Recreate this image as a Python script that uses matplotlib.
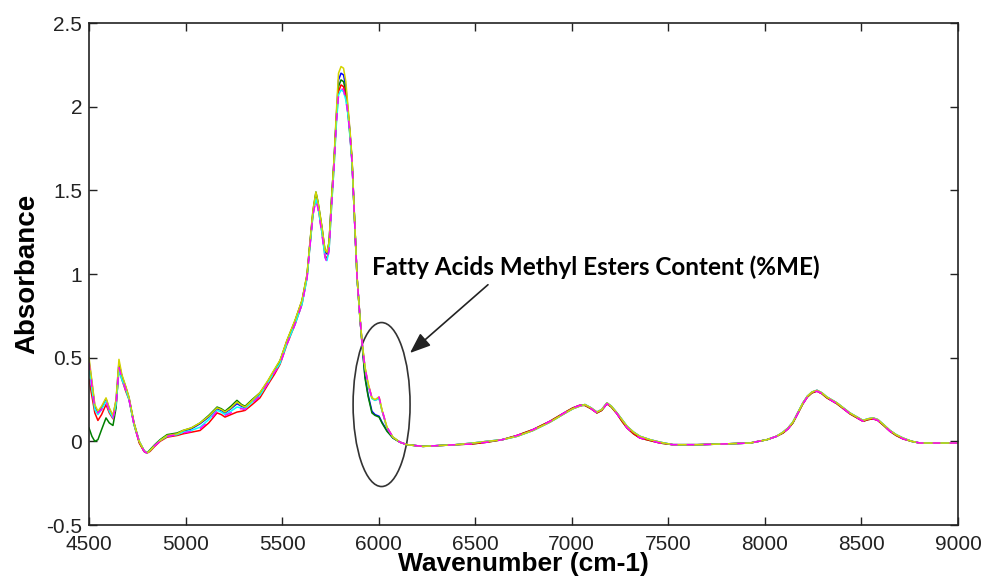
import numpy as np
import matplotlib
matplotlib.use("Agg")
import matplotlib.pyplot as plt
from matplotlib.patches import Ellipse

# wavenumber grid, split in three read-off segments
wn_left = [4500, 4515, 4530, 4546, 4565, 4588, 4605, 4624, 4640, 4655, 4670, 4690, 4707,
           4733, 4760, 4785, 4800, 4816, 4840, 4868, 4904, 4956, 4987, 5030, 5075, 5120,
           5163, 5185, 5204, 5235, 5266, 5290, 5308, 5345, 5385, 5427, 5460]
wn_peak = [5489, 5525, 5567, 5603, 5629, 5644, 5660, 5675, 5686, 5706, 5722, 5732, 5743,
           5758, 5769, 5780, 5792, 5805, 5818, 5830, 5841, 5852, 5862, 5877, 5888, 5903,
           5914, 5929, 5945, 5965, 5981, 6002, 6017, 6043, 6074, 6110, 6147]
wn_right = [6229, 6317, 6400, 6488, 6560, 6640, 6716, 6799, 6887, 6975, 7006, 7040, 7068,
            7100, 7130, 7155, 7182, 7205, 7234, 7260, 7286, 7320, 7353, 7405, 7457, 7524,
            7650, 7800, 7923, 8011, 8060, 8094, 8120, 8145, 8170, 8197, 8220, 8244, 8270,
            8295, 8321, 8373, 8440, 8508, 8535, 8560, 8585, 8615, 8648, 8680, 8715, 8760,
            8803, 8900, 9000]

# absorbance, left segment (4500-5460)
blue_left = [0.48, 0.35, 0.21, 0.175, 0.20, 0.255, 0.195, 0.15, 0.245, 0.47, 0.39, 0.325, 0.26,
             0.11, 0.0, -0.055, -0.07, -0.055, -0.025, 0.005, 0.035, 0.045, 0.06, 0.075, 0.105, 0.145,
             0.195, 0.185, 0.17, 0.195, 0.225, 0.21, 0.2, 0.24, 0.285, 0.36, 0.425]
green_left = [0.08, 0.03, 0.0, 0.01, 0.07, 0.14, 0.11, 0.095, 0.2, 0.45, 0.39, 0.32, 0.255,
              0.105, -0.005, -0.06, -0.07, -0.05, -0.02, 0.01, 0.04, 0.05, 0.065, 0.08, 0.11, 0.155,
              0.205, 0.195, 0.18, 0.21, 0.245, 0.22, 0.21, 0.25, 0.29, 0.36, 0.425]
red_left = [0.37, 0.27, 0.17, 0.125, 0.16, 0.22, 0.17, 0.135, 0.22, 0.43, 0.37, 0.30, 0.25,
            0.10, -0.01, -0.06, -0.07, -0.06, -0.03, 0.0, 0.025, 0.035, 0.045, 0.055, 0.065, 0.11,
            0.17, 0.16, 0.145, 0.16, 0.175, 0.18, 0.185, 0.22, 0.26, 0.34, 0.40]
cyan_left = [0.44, 0.31, 0.19, 0.16, 0.19, 0.24, 0.18, 0.14, 0.22, 0.43, 0.37, 0.31, 0.25,
             0.10, 0.0, -0.055, -0.07, -0.055, -0.025, 0.005, 0.03, 0.04, 0.055, 0.065, 0.085, 0.13,
             0.185, 0.175, 0.16, 0.18, 0.205, 0.2, 0.195, 0.235, 0.275, 0.35, 0.415]
magenta_left = [0.47, 0.33, 0.20, 0.17, 0.19, 0.24, 0.18, 0.14, 0.22, 0.44, 0.38, 0.31, 0.25,
                0.10, -0.005, -0.06, -0.07, -0.055, -0.025, 0.0, 0.03, 0.04, 0.05, 0.06, 0.075, 0.12,
                0.18, 0.17, 0.155, 0.17, 0.195, 0.195, 0.19, 0.23, 0.27, 0.35, 0.41]
yellow_left = [0.50, 0.36, 0.22, 0.18, 0.21, 0.26, 0.20, 0.155, 0.25, 0.49, 0.40, 0.33, 0.265,
               0.11, 0.0, -0.055, -0.07, -0.055, -0.025, 0.005, 0.035, 0.045, 0.065, 0.08, 0.11, 0.15,
               0.20, 0.19, 0.175, 0.20, 0.235, 0.215, 0.205, 0.245, 0.29, 0.365, 0.43]

# absorbance, peak segment (5489-6147)
blue_peak = [0.48, 0.60, 0.72, 0.84, 0.99, 1.18, 1.37, 1.48, 1.42, 1.275, 1.135, 1.12, 1.18,
             1.48, 1.68, 1.93, 2.16, 2.20, 2.19, 2.12, 1.98, 1.84, 1.68, 1.28, 0.98, 0.74,
             0.585, 0.39, 0.28, 0.18, 0.16, 0.15, 0.115, 0.065, 0.02, -0.005, -0.02]
green_peak = [0.48, 0.60, 0.72, 0.84, 0.995, 1.185, 1.38, 1.49, 1.43, 1.28, 1.14, 1.13, 1.19,
              1.49, 1.68, 1.92, 2.12, 2.16, 2.15, 2.09, 1.97, 1.83, 1.68, 1.28, 0.98, 0.74,
              0.58, 0.38, 0.27, 0.17, 0.155, 0.145, 0.11, 0.06, 0.02, -0.005, -0.02]
red_peak = [0.46, 0.58, 0.70, 0.82, 0.98, 1.17, 1.36, 1.45, 1.40, 1.25, 1.11, 1.09, 1.15,
            1.45, 1.65, 1.90, 2.09, 2.13, 2.12, 2.06, 1.96, 1.82, 1.67, 1.28, 0.98, 0.74,
            0.59, 0.44, 0.34, 0.26, 0.245, 0.26, 0.185, 0.08, 0.025, -0.005, -0.02]
cyan_peak = [0.465, 0.585, 0.70, 0.82, 0.975, 1.165, 1.355, 1.45, 1.40, 1.25, 1.10, 1.08, 1.14,
             1.44, 1.64, 1.88, 2.07, 2.10, 2.09, 2.04, 1.95, 1.81, 1.66, 1.275, 0.975, 0.74,
             0.59, 0.44, 0.34, 0.255, 0.245, 0.255, 0.185, 0.08, 0.025, -0.005, -0.02]
magenta_peak = [0.46, 0.58, 0.70, 0.82, 0.975, 1.165, 1.355, 1.44, 1.39, 1.24, 1.10, 1.07, 1.14,
                1.44, 1.64, 1.89, 2.07, 2.11, 2.10, 2.04, 1.96, 1.82, 1.67, 1.28, 0.98, 0.74,
                0.59, 0.44, 0.345, 0.26, 0.25, 0.265, 0.19, 0.085, 0.025, -0.005, -0.02]
yellow_peak = [0.485, 0.605, 0.725, 0.845, 1.00, 1.19, 1.385, 1.49, 1.43, 1.285, 1.145, 1.13, 1.19,
               1.49, 1.69, 1.95, 2.20, 2.24, 2.23, 2.15, 2.00, 1.85, 1.69, 1.285, 0.985, 0.745,
               0.595, 0.445, 0.35, 0.26, 0.25, 0.265, 0.19, 0.085, 0.025, -0.005, -0.02]

# absorbance, right segment (6229-9000): two groups that almost overlap
right_a = [-0.03, -0.025, -0.02, -0.01, 0.0, 0.01, 0.03, 0.065, 0.115, 0.175, 0.195, 0.21, 0.22,
           0.20, 0.175, 0.19, 0.23, 0.21, 0.17, 0.13, 0.09, 0.055, 0.03, 0.01, -0.005, -0.02,
           -0.02, -0.015, -0.01, 0.01, 0.03, 0.055, 0.08, 0.115, 0.17, 0.23, 0.27, 0.295, 0.305,
           0.29, 0.265, 0.23, 0.17, 0.125, 0.135, 0.14, 0.13, 0.10, 0.065, 0.04, 0.02, 0.0,
           -0.01, -0.01, -0.01]
right_b = [-0.03, -0.025, -0.02, -0.015, -0.005, 0.01, 0.035, 0.07, 0.12, 0.18, 0.2, 0.215, 0.215,
           0.195, 0.17, 0.185, 0.225, 0.205, 0.165, 0.12, 0.08, 0.045, 0.02, 0.005, -0.01, -0.02,
           -0.02, -0.015, -0.01, 0.01, 0.03, 0.05, 0.075, 0.11, 0.165, 0.225, 0.265, 0.29, 0.30,
           0.285, 0.26, 0.225, 0.165, 0.12, 0.13, 0.135, 0.125, 0.095, 0.06, 0.035, 0.015, 0.0,
           -0.01, -0.01, -0.01]

ytick_vals = [-0.5, 0, 0.5, 1, 1.5, 2, 2.5]
ytick_labels = ['-0.5', '0', '0.5', '1', '1.5', '2', '2.5']
xtick_vals = [4500, 5000, 5500, 6000, 6500, 7000, 7500, 8000, 8500, 9000]

wn = wn_left + wn_peak + wn_right
series = [
    ('blue', blue_left + blue_peak + right_a, '-'),
    ('green', green_left + green_peak + right_b, '-'),
    ('red', red_left + red_peak + right_b, '-'),
    ('cyan', cyan_left + cyan_peak + right_a, '-'),
    ('#d4d400', yellow_left + yellow_peak + right_a, '-'),
    ('magenta', magenta_left + magenta_peak + right_b, '--'),
]

fig = plt.figure(figsize=(9.87, 5.8), dpi=100)
ax = fig.add_axes([0.0902, 0.0948, 0.8804, 0.8655])

for color, vals, ls in series:
    if ls == '--':
        ax.plot(wn, vals, color=color, lw=1.1, dashes=(5, 6))
    else:
        ax.plot(wn, vals, color=color, lw=1.1)

ax.set_xlim(4500, 9000)
ax.set_ylim(-0.5, 2.5)
ax.set_xticks(xtick_vals)
ax.set_xticklabels([str(v) for v in xtick_vals], family='Liberation Sans', fontsize=15)
ax.set_yticks(ytick_vals)
ax.set_yticklabels(ytick_labels, family='Liberation Sans', fontsize=15)
ax.tick_params(direction='in', length=6, width=1, top=True, right=True, pad=5, colors='#222222')
ax.tick_params(axis='x', pad=7)
for s in ax.spines.values():
    s.set_color('#222222')
    s.set_linewidth(1.2)

ax.set_xlabel('Wavenumber (cm-1)', family='Liberation Sans', fontweight='bold', fontsize=19, labelpad=-1)
ax.set_ylabel('Absorbance', family='Liberation Sans', fontweight='bold', fontsize=20, labelpad=4)

# annotation: ellipse, arrow and text
ax.add_patch(Ellipse((6015, 0.22), width=295, height=0.98, fill=False, ec='#333333', lw=1.2))
ax.annotate('', xy=(6162, 0.528), xytext=(6566, 0.936),
            arrowprops=dict(arrowstyle='-|>,head_length=0.9,head_width=0.35', color='#222222',
                            lw=1.2, mutation_scale=14, shrinkA=0, shrinkB=0))
ax.text(5965, 1.04, 'Fatty Acids Methyl Esters Content (%ME)', family='Lato', fontweight='bold',
        fontsize=17.5, va='center', ha='left', color='black')

fig.savefig('out.png', dpi=100)
